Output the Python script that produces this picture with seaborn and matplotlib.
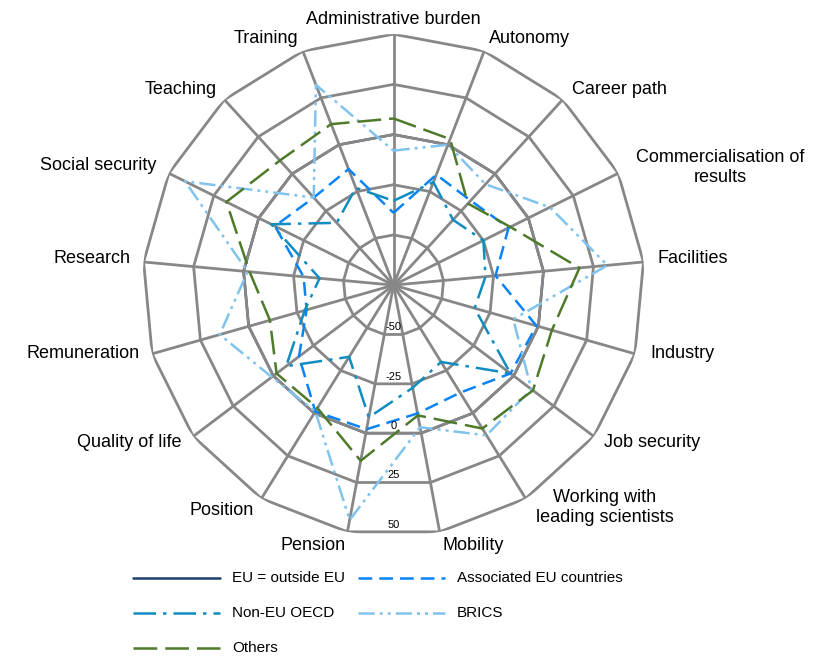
import numpy as np
import pandas as pd
import matplotlib
matplotlib.use("Agg")
import matplotlib.pyplot as plt
from matplotlib.lines import Line2D
import seaborn as sns

categories = ["Administrative burden", "Autonomy", "Career path",
              "Commercialisation of\nresults", "Facilities", "Industry",
              "Job security", "Working with\nleading scientists", "Mobility",
              "Pension", "Position", "Quality of life", "Remuneration",
              "Research", "Social security", "Teaching", "Training"]

eu_outside = [0, 0, 0, 0, 0, 0, 0, 0, 0, 0, 0, 0, 0, 0, 0, 0, 0]
associated = [-39, -16, -18, -11, -24, -1, -2, -12, -10, -2, -1, -16, -30, -30, -9, -16, -13]
non_eu_oecd = [-33, -20, -31, -25, -29, -33, -2, -30, -23, -8, -33, -8, -29, -38, -7, -33, -23]
brics = [-8, 0, -7, 12, 32, -13, 11, 13, -3, 44, -1, 1, 15, -2, 41, -16, 32]
others = [8, 3, -20, -10, 18, 7, 12, 9, -9, 14, -3, -2, -11, -3, 18, 9, 11]

ring_ticks = [-50, -25, 0, 25, 50]
r_min, r_max = -75, 50

series = {
    "EU = outside EU": eu_outside,
    "Associated EU countries": associated,
    "Non-EU OECD": non_eu_oecd,
    "BRICS": brics,
    "Others": others,
}
colors = {
    "EU = outside EU": "#1F3F6E",
    "Associated EU countries": "#0A84F5",
    "Non-EU OECD": "#108DC0",
    "BRICS": "#80C3EC",
    "Others": "#4E7A2A",
}
dashes = {
    "EU = outside EU": "",
    "Associated EU countries": (5.5, 2.8),
    "Non-EU OECD": (9, 2.8, 1.4, 2.8),
    "BRICS": (6.5, 2, 1.2, 2, 1.2, 2),
    "Others": (9.5, 3.2),
}

sns.set_theme(style="white")
plt.rcParams["font.family"] = ["Liberation Sans", "DejaVu Sans"]

n = len(categories)
theta = np.arange(n) * 2 * np.pi / n
theta_closed = np.append(theta, 2 * np.pi)

fig = plt.figure(figsize=(8.19, 6.57), dpi=100)
ax = fig.add_axes([0.174, 0.184, 0.613, 0.764], polar=True)
ax.set_theta_zero_location("N")
ax.set_theta_direction(-1)
ax.set_ylim(r_min, r_max)
ax.grid(False)
ax.set_xticks([])
ax.set_yticks([])
ax.spines["polar"].set_visible(False)
ax.patch.set_alpha(0)

grid_col = "#878787"
line_w = 1.8
# reference series sits on the 0 ring, under the grid
ax.plot(theta_closed, eu_outside + eu_outside[:1], color=colors["EU = outside EU"],
        lw=line_w, zorder=0.5)
for lvl in ring_ticks:
    ax.plot(theta_closed, [lvl] * (n + 1), color=grid_col, lw=2.0, zorder=1)
for t in theta:
    ax.plot([t, t], [r_min, r_max], color=grid_col, lw=2.0, zorder=1)

rows = []
for name, vals in series.items():
    if name == "EU = outside EU":
        continue
    for t, v in zip(theta_closed, vals + vals[:1]):
        rows.append({"series": name, "theta": t, "value": v})
df = pd.DataFrame(rows)
sns.lineplot(data=df, x="theta", y="value", hue="series", style="series",
             palette=colors, dashes=dashes, sort=False, estimator=None,
             legend=False, lw=line_w, ax=ax, zorder=3)
ax.set_xlabel("")
ax.set_ylabel("")
ax.set_ylim(r_min, r_max)

# category labels (pixel offsets from the outer vertex)
label_pos = [
    ("center", "bottom", 0, 6), ("left", "bottom", 5, 4), ("left", "bottom", 9, 2),
    ("left", "center", 18, 6), ("left", "center", 14, 3), ("left", "center", 15, 0),
    ("left", "center", 10, -6), ("left", "center", 10, -9), ("left", "top", 3, -5),
    ("right", "top", -2, -5), ("right", "center", -8, -12), ("right", "center", -12, -6),
    ("right", "center", -13, 0), ("right", "center", -13, 3), ("right", "center", -12, 8),
    ("right", "bottom", -8, 2), ("right", "bottom", -5, 4),
]
for t, lab, (ha, va, dx, dy) in zip(theta, categories, label_pos):
    ax.annotate(lab, xy=(t, r_max), xytext=(dx * 0.72, dy * 0.72),
                textcoords="offset points", ha=ha, va=va, fontsize=13,
                multialignment="center", color="black", annotation_clip=False)

# radial tick labels along the bottom edge
half = np.pi / n
for lvl in ring_ticks:
    rv = r_min + (lvl - r_min) * np.cos(half)
    ax.annotate(str(lvl), xy=(np.pi, rv), xytext=(0, 1.5), textcoords="offset points",
                ha="center", va="bottom", fontsize=8, color="black", zorder=4)

# legend laid out row by row, two columns
W, H = fig.get_size_inches() * fig.dpi
col_x = [133, 358]
row_y = [578, 613, 648]
for i, name in enumerate(series):
    x0 = col_x[i % 2]
    y0 = row_y[i // 2]
    fy = 1 - y0 / H
    ls = "-" if dashes[name] == "" else (0, dashes[name])
    fig.add_artist(Line2D([x0 / W, (x0 + 87) / W], [fy, fy], color=colors[name],
                          lw=line_w, linestyle=ls, transform=fig.transFigure))
    fig.text((x0 + 99) / W, fy, name, ha="left", va="center", fontsize=11,
             color="black")

fig.savefig("out.png", dpi=100)
